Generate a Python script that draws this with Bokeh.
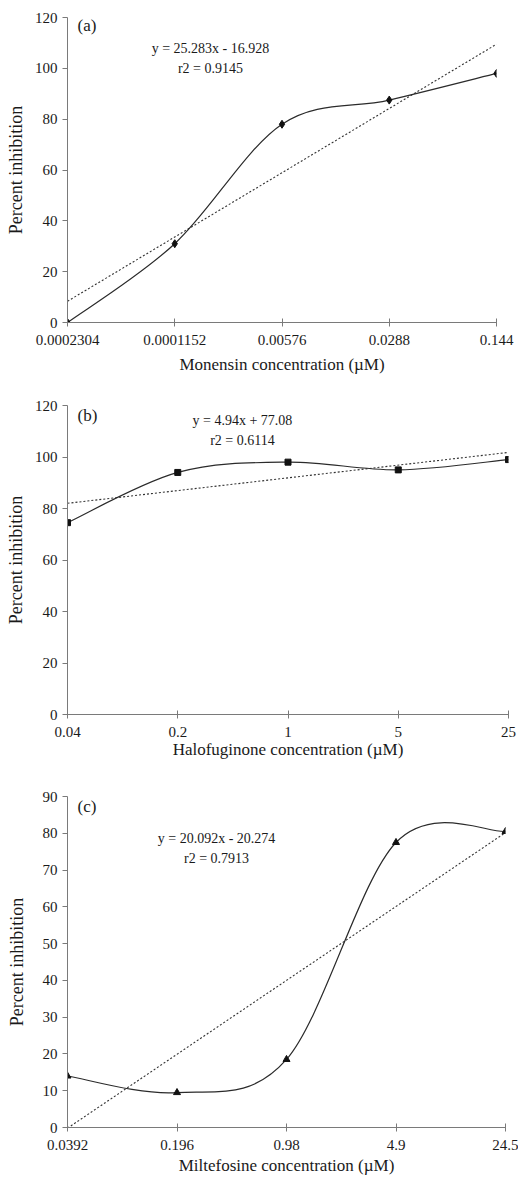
from bokeh.plotting import figure
from bokeh.models import Range1d, FixedTicker, Label
from bokeh.layouts import column
from bokeh.embed import file_html
from bokeh.resources import INLINE

# ---------------- data ----------------
positions = [1, 2, 3, 4, 5]

mon_labels = ["0.0002304", "0.0001152", "0.00576", "0.0288", "0.144"]
mon_values = [0.0, 31.0, 78.0, 87.5, 98.0]
mon_fit = (25.283, -16.928)
mon_eq = ["y = 25.283x - 16.928", "r2 = 0.9145"]

hal_labels = ["0.04", "0.2", "1", "5", "25"]
hal_values = [74.5, 94.0, 98.0, 95.0, 99.0]
hal_fit = (4.94, 77.08)
hal_eq = ["y = 4.94x + 77.08", "r2 = 0.6114"]

mil_labels = ["0.0392", "0.196", "0.98", "4.9", "24.5"]
mil_values = [14.0, 9.5, 18.5, 77.5, 80.5]
mil_fit = (20.092, -20.274)
mil_eq = ["y = 20.092x - 20.274", "r2 = 0.7913"]

FONT = "'Liberation Serif', 'Times New Roman', Times, serif"
AXIS_COL = "#7a7a7a"
LINE_COL = "#2b2b2b"
TEXT_COL = "#1a1a1a"


def smooth_segments(xs, ys):
    """Catmull-Rom style Bezier control points (Excel-like smoothed line)."""
    n = len(xs)
    seg = dict(x0=[], y0=[], x1=[], y1=[], cx0=[], cy0=[], cx1=[], cy1=[])
    for i in range(n - 1):
        pm = i - 1 if i > 0 else i
        pp = i + 2 if i + 2 < n else i + 1
        seg["x0"].append(xs[i]); seg["y0"].append(ys[i])
        seg["x1"].append(xs[i + 1]); seg["y1"].append(ys[i + 1])
        seg["cx0"].append(xs[i] + (xs[i + 1] - xs[pm]) / 6.0)
        seg["cy0"].append(ys[i] + (ys[i + 1] - ys[pm]) / 6.0)
        seg["cx1"].append(xs[i + 1] - (xs[pp] - xs[i]) / 6.0)
        seg["cy1"].append(ys[i + 1] - (ys[pp] - ys[i]) / 6.0)
    return seg


def panel(fw, fh, b_top, b_right, ymax, ystep, labels, values, fit,
          eq, eq_pos, tag, tag_pos, marker, msize, xtitle, ylab_standoff,
          xlab_standoff):
    p = figure(frame_width=fw, frame_height=fh, output_backend="svg",
               toolbar_location=None,
               x_range=Range1d(1, 5), y_range=Range1d(0, ymax),
               min_border_left=67, min_border_right=b_right,
               min_border_top=b_top, min_border_bottom=10)
    p.outline_line_color = None
    p.grid.visible = False
    p.background_fill_color = "white"
    p.border_fill_color = "white"

    xa = p.xaxis[0]
    xa.ticker = FixedTicker(ticks=positions)
    xa.major_label_overrides = {pos: lab for pos, lab in zip(positions, labels)}
    xa.major_tick_in = 4
    xa.major_tick_out = 4
    xa.minor_tick_line_color = None
    xa.axis_line_color = AXIS_COL
    xa.major_tick_line_color = AXIS_COL
    xa.major_label_text_font = FONT
    xa.major_label_text_font_size = "15px"
    xa.major_label_text_color = TEXT_COL
    xa.major_label_standoff = 8
    xa.axis_label = xtitle
    xa.axis_label_text_font = FONT
    xa.axis_label_text_font_size = "17px"
    xa.axis_label_text_font_style = "normal"
    xa.axis_label_text_color = TEXT_COL
    xa.axis_label_standoff = xlab_standoff

    ya = p.yaxis[0]
    ya.ticker = FixedTicker(ticks=list(range(0, ymax + 1, ystep)))
    ya.major_tick_in = 0
    ya.major_tick_out = 5
    ya.minor_tick_line_color = None
    ya.axis_line_color = AXIS_COL
    ya.major_tick_line_color = AXIS_COL
    ya.major_label_text_font = FONT
    ya.major_label_text_font_size = "15px"
    ya.major_label_text_color = TEXT_COL
    ya.major_label_standoff = 5
    ya.axis_label = "Percent inhibition"
    ya.axis_label_text_font = FONT
    ya.axis_label_text_font_size = "18px"
    ya.axis_label_text_font_style = "normal"
    ya.axis_label_text_color = TEXT_COL
    ya.axis_label_standoff = ylab_standoff

    # linear trend (dotted)
    slope, intercept = fit
    p.line([positions[0], positions[-1]],
           [slope * positions[0] + intercept, slope * positions[-1] + intercept],
           line_color="#333333", line_width=1.1, line_dash="2 2")

    # smoothed data line
    seg = smooth_segments(positions, values)
    p.bezier(x0=seg["x0"], y0=seg["y0"], x1=seg["x1"], y1=seg["y1"],
             cx0=seg["cx0"], cy0=seg["cy0"], cx1=seg["cx1"], cy1=seg["cy1"],
             line_color=LINE_COL, line_width=1.2)
    p.scatter(positions, values, marker=marker, size=msize,
              fill_color="#111111", line_color="#111111")

    # equation text
    for txt, (ex, ey) in zip(eq, eq_pos):
        p.add_layout(Label(x=ex, y=ey, text=txt, text_font=FONT,
                           text_font_size="14px", text_color=TEXT_COL,
                           text_align="center", text_baseline="middle"))
    p.add_layout(Label(x=tag_pos[0], y=tag_pos[1], text=tag, text_font=FONT,
                       text_font_size="17px", text_color=TEXT_COL,
                       text_align="left", text_baseline="middle"))
    return p


pa = panel(429, 305, 17, 22, 120, 20, mon_labels, mon_values, mon_fit, mon_eq,
           [(2.333, 107.8), (2.333, 99.9)], "(a)", (1.093, 116.9), "diamond", 8,
           "Monensin concentration (\u00b5M)", 6, 7)
pb = panel(441, 309, 29, 10, 120, 20, hal_labels, hal_values, hal_fit, hal_eq,
           [(2.587, 114.1), (2.587, 106.4)], "(b)", (1.091, 116.2), "square", 6,
           "Halofuginone concentration (\u00b5M)", 6, 0)
pc = panel(438, 331, 35, 13, 90, 10, mil_labels, mil_values, mil_fit, mil_eq,
           [(2.361, 78.5), (2.361, 73.1)], "(c)", (1.091, 87.3), "triangle", 7,
           "Miltefosine concentration (\u00b5M)", 13, 3)

layout = column(pa, pb, pc, spacing=0)
open("out.html", "w").write(file_html(layout, INLINE))
